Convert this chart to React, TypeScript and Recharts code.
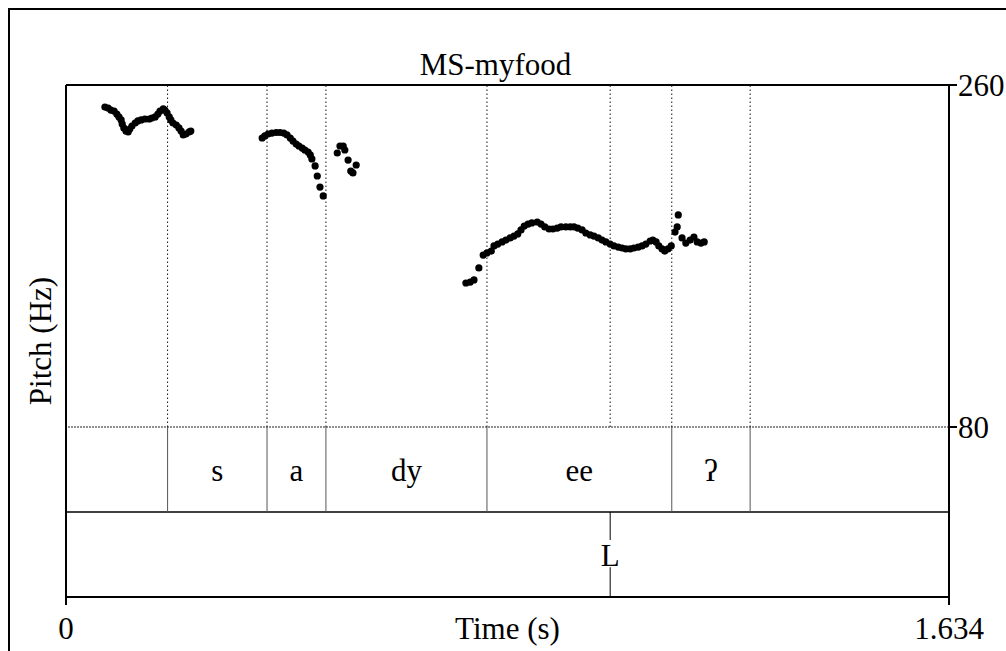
import React from 'react';
import { ComposedChart, Scatter, XAxis, YAxis, ReferenceLine, ReferenceArea } from 'recharts';

const TITLE = 'MS-myfood';
const X_LABEL = 'Time (s)';
const Y_LABEL = 'Pitch (Hz)';
const T_MIN = 0;
const T_MAX = 1.634;
const F_MIN = 80;
const F_MAX = 260;
const TIME_TICKS = [0, 1.634];
const PITCH_TICKS = [80, 260];

// pitch contour pieces: [time (s), f0 (Hz)]
const pitchPart1: [number, number][] = [
  [0.072, 248.4], [0.078, 247.9], [0.083, 246.8], [0.089, 246.3], [0.094, 244.7], [0.098, 243.2],
  [0.102, 241.6], [0.104, 239.5], [0.107, 237.4], [0.111, 235.8], [0.115, 235.3], [0.118, 236.8],
  [0.122, 238.4], [0.128, 240.0], [0.133, 241.1], [0.139, 241.6], [0.146, 242.1], [0.154, 242.1],
  [0.159, 242.6], [0.165, 243.2], [0.170, 244.7], [0.174, 246.3], [0.180, 247.4], [0.183, 246.8],
  [0.187, 245.3], [0.191, 243.2], [0.194, 241.6], [0.198, 240.0], [0.204, 238.9], [0.209, 237.4],
  [0.213, 235.8], [0.217, 233.7], [0.222, 234.2], [0.228, 235.3], [0.231, 235.8],
];
const pitchPart2: [number, number][] = [
  [0.363, 232.1], [0.368, 233.2], [0.374, 234.2], [0.381, 234.7], [0.389, 235.0], [0.396, 235.0],
  [0.403, 234.7], [0.409, 233.7], [0.415, 232.1], [0.420, 230.5], [0.426, 228.9], [0.431, 227.9],
  [0.437, 226.8], [0.442, 225.8], [0.448, 224.7], [0.452, 223.2], [0.455, 221.1], [0.461, 217.4],
  [0.465, 212.1], [0.470, 206.3], [0.476, 201.6],
];
const pitchPart3: [number, number][] = [
  [0.502, 224.2], [0.507, 227.9], [0.513, 227.9], [0.516, 225.8], [0.522, 220.5], [0.527, 214.7],
  [0.531, 213.7], [0.537, 217.9],
];
const pitchPart4: [number, number][] = [
  [0.740, 155.8], [0.748, 156.3], [0.755, 157.4], [0.764, 163.7], [0.772, 170.5], [0.779, 171.6],
  [0.787, 172.6], [0.792, 175.3], [0.799, 176.3], [0.807, 177.4], [0.814, 178.4], [0.822, 179.5],
  [0.829, 180.5], [0.836, 181.6], [0.842, 183.7], [0.848, 185.8], [0.855, 186.8], [0.862, 187.4],
  [0.872, 187.9], [0.879, 186.8], [0.886, 185.3], [0.894, 184.2], [0.901, 184.2], [0.909, 184.7],
  [0.916, 185.3], [0.925, 185.3], [0.933, 185.3], [0.940, 185.3], [0.947, 184.7], [0.955, 183.7],
  [0.962, 182.1], [0.970, 181.1], [0.977, 180.5], [0.985, 179.5], [0.992, 178.4], [0.999, 177.4],
  [1.007, 176.3], [1.014, 175.3], [1.022, 174.7], [1.029, 174.2], [1.036, 173.7], [1.044, 173.7],
  [1.051, 174.2], [1.059, 174.7], [1.066, 175.3], [1.073, 176.3], [1.081, 177.9], [1.086, 178.4],
  [1.092, 177.4], [1.097, 175.3], [1.103, 173.7], [1.108, 172.6], [1.114, 173.7], [1.120, 175.3],
  [1.127, 182.6], [1.131, 185.3], [1.133, 191.6], [1.140, 179.5], [1.147, 176.8], [1.155, 178.4],
  [1.162, 180.0], [1.168, 177.4], [1.175, 176.8], [1.181, 177.4],
];

// phone tier (interval boundaries and labels)
const phoneEdges = [0, 0.188, 0.372, 0.481, 0.779, 1.121, 1.266, 1.634];
const phoneLabels = ['', 's', 'a', 'dy', 'ee', 'ʔ', ''];
// tone tier (points)
const toneTimes = [1.007];
const toneLabels = ['L'];

const FONT = '"Liberation Serif", "Times New Roman", "DejaVu Serif", serif';
const FS = 31;

// vertical room of each tier, expressed in Hz units of the pitch panel
const TIER_SPAN = (F_MAX - F_MIN) * (85 / 342);
const TIER1_TOP = F_MIN;
const TIER1_BOT = F_MIN - TIER_SPAN;
const TIER2_BOT = F_MIN - 2 * TIER_SPAN;

const pitchData = [...pitchPart1, ...pitchPart2, ...pitchPart3, ...pitchPart4].map(([t, hz]) => ({ t, hz }));

const Dot = (p: any) => <circle cx={p.cx} cy={p.cy} r={3.6} fill="#000" />;

export default function App() {
  const innerEdges = phoneEdges.slice(1, -1);
  const dotted = [...innerEdges, ...toneTimes].sort((a, b) => a - b);
  return (
    <div style={{ position: 'fixed', left: 0, top: 0, width: 1006, height: 651, overflow: 'hidden', background: '#fff' }}>
      <div
        style={{
          position: 'absolute', left: 8, top: 8, width: 1100, height: 700, boxSizing: 'border-box',
          border: '2px solid #000',
        }}
      />
      <div style={{ position: 'absolute', left: 8, top: 8 }}>
        <ComposedChart
          width={998}
          height={643}
          data={pitchData}
          margin={{ top: 77, right: 8, bottom: 0, left: 6 }}
          style={{ overflow: 'visible' }}
        >
          <XAxis
            dataKey="t"
            type="number"
            domain={[T_MIN, T_MAX]}
            ticks={TIME_TICKS}
            tickFormatter={(v: number) => (v === 0 ? '0' : v.toFixed(3))}
            height={54}
            tickSize={8}
            tickMargin={12}
            stroke="#000"
            axisLine={{ stroke: '#000', strokeWidth: 2 }}
            tickLine={{ stroke: '#000', strokeWidth: 2 }}
            tick={{ fill: '#000', fontSize: FS, fontFamily: FONT }}
            label={{ value: X_LABEL, position: 'insideBottom', offset: 12, fill: '#000', fontSize: FS, fontFamily: FONT }}
          />
          <YAxis
            yAxisId="lbl"
            orientation="left"
            width={52}
            domain={[0, 1]}
            tick={false}
            tickLine={false}
            axisLine={{ stroke: '#000', strokeWidth: 2 }}
            label={{ value: Y_LABEL, angle: -90, position: 'center', fill: '#000', fontSize: FS, fontFamily: FONT }}
          />
          <YAxis
            yAxisId="hz"
            dataKey="hz"
            orientation="right"
            type="number"
            width={49}
            domain={[TIER2_BOT, F_MAX]}
            allowDataOverflow
            ticks={PITCH_TICKS}
            tickSize={8}
            tickMargin={1}
            axisLine={{ stroke: '#000', strokeWidth: 2 }}
            tickLine={{ stroke: '#000', strokeWidth: 2 }}
            tick={{ fill: '#000', fontSize: FS, fontFamily: FONT, width: 80 }}
          />

          {/* top frame line + title */}
          <ReferenceLine
            yAxisId="hz"
            y={F_MAX}
            stroke="#000"
            strokeWidth={2}
            label={{ value: TITLE, position: 'top', offset: 10, dx: -12, fill: '#000', fontSize: FS, fontFamily: FONT }}
          />
          {/* dotted 80 Hz line = top of phone tier */}
          <ReferenceLine yAxisId="hz" y={TIER1_TOP} stroke="#222" strokeWidth={1} strokeDasharray="2 1" />
          {/* bottom of phone tier */}
          <ReferenceLine yAxisId="hz" y={TIER1_BOT} stroke="#000" strokeWidth={1.5} />

          {/* dotted boundaries in the pitch panel */}
          {dotted.map((t) => (
            <ReferenceLine
              key={'d' + t}
              yAxisId="hz"
              segment={[{ x: t, y: TIER1_TOP }, { x: t, y: F_MAX }]}
              stroke="#111"
              strokeWidth={1}
              strokeDasharray="1.5 2.5"
            />
          ))}

          {/* phone tier boundaries */}
          {innerEdges.map((t) => (
            <ReferenceLine
              key={'b' + t}
              yAxisId="hz"
              segment={[{ x: t, y: TIER1_BOT }, { x: t, y: TIER1_TOP }]}
              stroke="#555"
              strokeWidth={1}
            />
          ))}

          {/* phone labels */}
          {phoneLabels.map((lbl, i) =>
            lbl ? (
              <ReferenceArea
                key={'p' + i}
                yAxisId="hz"
                x1={phoneEdges[i]}
                x2={phoneEdges[i + 1]}
                y1={TIER1_BOT}
                y2={TIER1_TOP}
                fill="none"
                fillOpacity={0}
                stroke="none"
                label={{ value: lbl, position: 'center', fill: '#000', fontSize: FS, fontFamily: FONT }}
              />
            ) : null
          )}

          {/* tone tier points */}
          {toneTimes.map((t, i) => (
            <React.Fragment key={'tone' + i}>
              <ReferenceLine
                yAxisId="hz"
                segment={[{ x: t, y: TIER1_BOT }, { x: t, y: TIER1_BOT - TIER_SPAN * 0.33 }]}
                stroke="#000"
                strokeWidth={1}
              />
              <ReferenceLine
                yAxisId="hz"
                segment={[{ x: t, y: TIER2_BOT + TIER_SPAN * 0.35 }, { x: t, y: TIER2_BOT }]}
                stroke="#000"
                strokeWidth={1}
              />
              <ReferenceArea
                yAxisId="hz"
                x1={t - 0.05}
                x2={t + 0.05}
                y1={TIER2_BOT}
                y2={TIER1_BOT}
                fill="none"
                fillOpacity={0}
                stroke="none"
                label={{ value: toneLabels[i], position: 'center', fill: '#000', fontSize: FS, fontFamily: FONT }}
              />
            </React.Fragment>
          ))}

          <Scatter
            yAxisId="hz"
            data={pitchData}
            dataKey="hz"
            shape={Dot}
            isAnimationActive={false}
          />
        </ComposedChart>
      </div>
    </div>
  );
}
